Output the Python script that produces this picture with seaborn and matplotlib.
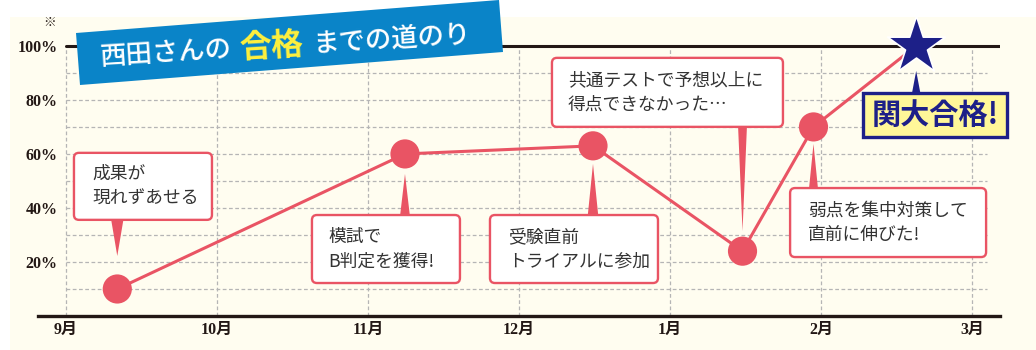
import matplotlib
matplotlib.use('Agg')
import matplotlib.pyplot as plt
from matplotlib.patches import Polygon, Rectangle, FancyBboxPatch
import pandas as pd
import seaborn as sns

# データ
month_labels = ['9月', '10月', '11月', '12月', '1月', '2月', '3月']
month_pos = [0, 1, 2, 3, 4, 5, 6]
event_pos = [0.34, 2.245, 3.49, 4.48, 4.95, 5.63]   # 9月1日からの月数
event_score = [10, 60, 63, 24, 70, 100]             # 合格可能性(%)
event_notes = ['成果が\n現れずあせる',
               '模試で\nB判定を獲得!',
               '受験直前\nトライアルに参加',
               '共通テストで予想以上に\n得点できなかった…',
               '弱点を集中対策して\n直前に伸びた!']
goal_note = '関大合格!'
y_ticks = [20, 40, 60, 80, 100]
y_labels = ['20%', '40%', '60%', '80%', '100%']

# 吹き出しの配置 (中心はデータ座標、サイズはピクセル)
note_center = [(0.51, 48.0), (2.119, 24.8), (3.364, 24.8), (3.983, 82.8), (5.444, 34.6)]
note_size = [(138, 67), (148, 68), (168, 68), (231, 69), (196, 69)]
note_pad = [18, 16, 18, 16, 18]
# ポインタ: (根元までのオフセットpx, 先端と点の隙間px, 幅)
pointer_spec = [(70, 33, 0.45), (-65, 20, 0.38), (-70, 18, 0.38), (125, 20, 0.32), (-64, 17, 0.34)]
goal_center = (5.755, 74.4)
goal_size = (144, 44)
goal_pointer = (-50, 25, 0.34)

red = '#e95464'
navy = '#1d2088'
dark = '#231815'
cream = '#fffdf0'
grid_c = '#b5b5b5'

sns.set_style('white')
plt.rcParams['font.family'] = ['Noto Sans CJK JP', 'DejaVu Sans']
serif = ['Liberation Serif', 'Noto Sans CJK JP']

fig = plt.figure(figsize=(10.36, 3.5), dpi=100)
fig.patch.set_facecolor('white')
fig.patches.append(Rectangle((10 / 1036, 0), 1, 1 - 17 / 350, transform=fig.transFigure,
                             fc=cream, ec='none', zorder=-1))

ax = fig.add_axes([38 / 1036, 1 - 316 / 350, 962 / 1036, 299 / 350])
ax.patch.set_alpha(0)
ax.set_xlim(-0.185, 6.185)
ax.set_ylim(0, 110.7)

# グリッド
ax.hlines(range(10, 100, 10), month_pos[0], month_pos[-1] + 0.1, colors=grid_c,
          linestyles=(0, (3, 2)), lw=0.9, zorder=1)
ax.vlines(month_pos, 0, 100, colors=grid_c, linestyles=(0, (3, 2)), lw=0.9, zorder=1)
ax.axhline(100, xmin=28 / 962, xmax=1, color=dark, lw=2.2, zorder=2)

# 推移
df = pd.DataFrame({'pos': event_pos, 'score': event_score})
sns.lineplot(data=df, x='pos', y='score', color=red, lw=2.2, ax=ax, zorder=3)
sns.scatterplot(data=df.iloc[:-1], x='pos', y='score', s=441, color=red, edgecolor='none',
                ax=ax, zorder=4)
sns.scatterplot(data=df.iloc[-1:], x='pos', y='score', marker='*', s=1900, color=navy,
                edgecolor='white', linewidth=1.2, ax=ax, zorder=6, clip_on=False)

# 軸
for s in ['left', 'top', 'right']:
    ax.spines[s].set_visible(False)
ax.spines['bottom'].set_color(dark)
ax.spines['bottom'].set_linewidth(2.4)
ax.set_xticks(month_pos, month_labels)
ax.set_yticks(y_ticks, y_labels)
ax.tick_params(axis='x', length=0, pad=4, labelsize=11.5, colors=dark)
ax.tick_params(axis='y', length=0, pad=-14, labelsize=11.5, colors=dark)
for lab in ax.get_xticklabels() + ax.get_yticklabels():
    lab.set_family(serif)
    lab.set_fontweight('bold')
ax.set_xlabel('')
ax.set_ylabel('')

# 吹き出し
fig.canvas.draw()
p0 = ax.transData.transform((0, 0))
p1 = ax.transData.transform((1, 1))
px_x = p1[0] - p0[0]
px_y = p1[1] - p0[1]
aspect = px_x / px_y


def pointer(x, y, spec, color):
    off, gap, tw = spec
    ax.annotate('', xy=(x, y), xytext=(0, off), textcoords='offset pixels',
                arrowprops=dict(arrowstyle=f'wedge,tail_width={tw}', fc=color, ec='none',
                                shrinkA=0, shrinkB=gap * 0.72, mutation_scale=20),
                zorder=5)


def box(center, size, fc, ec, lw, style):
    w = size[0] / px_x
    h = size[1] / px_y
    ax.add_patch(FancyBboxPatch((center[0] - w / 2, center[1] - h / 2), w, h,
                                boxstyle=style, mutation_aspect=aspect,
                                fc=fc, ec=ec, lw=lw, zorder=7, clip_on=False))


for i, note in enumerate(event_notes):
    pointer(event_pos[i], event_score[i], pointer_spec[i], red)
    box(note_center[i], note_size[i], 'white', red, 1.7, f'round,pad=0,rounding_size={5 / px_x}')
    left = note_center[i][0] - note_size[i][0] / 2 / px_x + note_pad[i] / px_x
    ax.text(left, note_center[i][1], note, ha='left', va='center', fontsize=12.8,
            linespacing=1.45, color='#333333', zorder=8)

pointer(event_pos[-1], event_score[-1], goal_pointer, navy)
box(goal_center, goal_size, '#fff799', navy, 2.4, 'square,pad=0')
ax.text(goal_center[0], goal_center[1], goal_note, ha='center', va='center', fontsize=21,
        fontweight='bold', color=navy, zorder=8)

# タイトル帯


def fp(x, y):
    return (x / 1036, 1 - y / 350)


fig.patches.append(Polygon([fp(76, 33), fp(499, 0), fp(503, 52), fp(80, 85)], closed=True,
                           transform=fig.transFigure, fc='#0a84c8', ec='none', zorder=5))
title_parts = [('西田さんの', (100, 58), 19, 'white', 'medium'),
               ('合格', (240, 49), 23, '#fff03c', 'bold'),
               ('までの道のり', (313, 44.5), 19, 'white', 'medium')]
for txt, xy, fs, col, fw in title_parts:
    fig.text(*fp(*xy), txt, fontsize=fs, color=col, fontweight=fw, rotation=3.6,
             rotation_mode='anchor', ha='left', va='center', zorder=6)
fig.text(*fp(50, 22), '※', fontsize=9, color=dark, ha='center', va='center')

fig.savefig('out.png', dpi=100, facecolor='white')
